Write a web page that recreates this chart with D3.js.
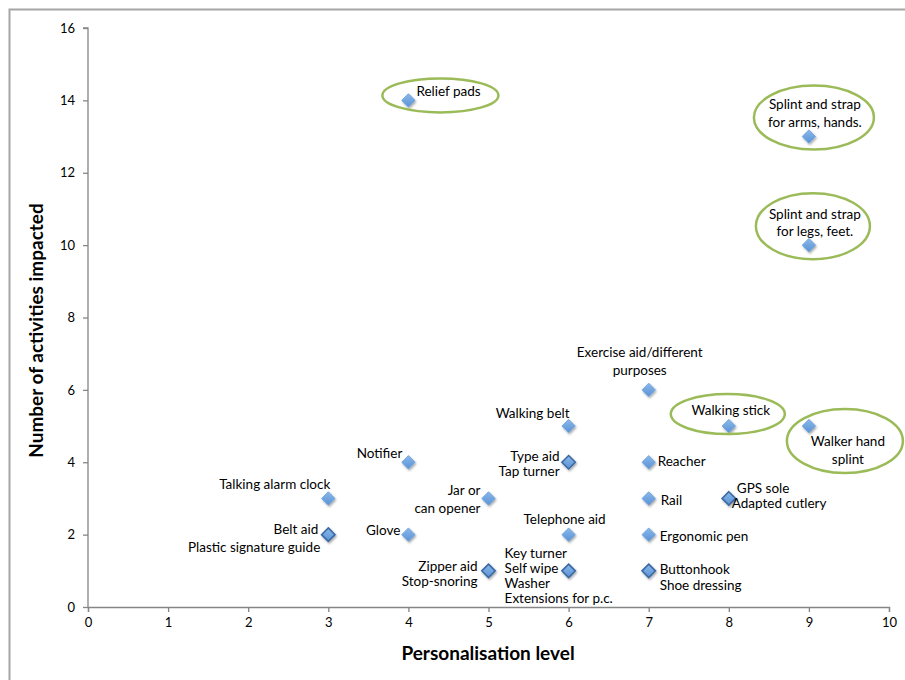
<!DOCTYPE html>
<html>
<head>
<meta charset="utf-8">
<script src="https://cdn.jsdelivr.net/npm/d3@7"></script>
<style>
  body { margin: 0; background: #fff; }
  text { font-family: Lato, "Open Sans", sans-serif; fill: #000; }
</style>
</head>
<body>
<div id="chart"></div>
<script>
// data
var names = [
    "Relief pads", "Splint and strap\nfor arms, hands.", "Splint and strap\nfor legs, feet.",
    "Exercise aid/different\npurposes", "Walking belt", "Walking stick", "Walker hand\nsplint",
    "Notifier", "Type aid\nTap turner", "Reacher",
    "Talking alarm clock", "Jar or\ncan opener", "Rail", "GPS sole\nAdapted cutlery",
    "Belt aid\nPlastic signature guide", "Glove", "Telephone aid", "Ergonomic pen",
    "Zipper aid\nStop-snoring", "Key turner\nSelf wipe\nWasher\nExtensions for p.c.", "Buttonhook\nShoe dressing"
];
var personalisation = [4, 9, 9, 7, 6, 8, 9, 4, 6, 7, 3, 5, 7, 8, 3, 4, 6, 7, 5, 6, 7];
var activities = [14, 13, 10, 6, 5, 5, 5, 4, 4, 4, 3, 3, 3, 3, 2, 2, 2, 2, 1, 1, 1];
// how many aids sit on the same spot (darker marker)
var stacked = [1, 1, 1, 1, 1, 1, 1, 1, 2, 1, 1, 1, 1, 2, 2, 1, 1, 1, 2, 4, 2];
var circled = ["Relief pads", "Splint and strap\nfor arms, hands.", "Splint and strap\nfor legs, feet.",
               "Walking stick", "Walker hand\nsplint"];

var xTicks = [0, 1, 2, 3, 4, 5, 6, 7, 8, 9, 10];
var yTicks = [0, 2, 4, 6, 8, 10, 12, 14, 16];

// label placement relative to the marker: dx, dy of first line, anchor, line gap
var placement = [
    {dx: 8, dy: -8, a: "start", g: 17},
    {dx: 6, dy: -31, a: "middle", g: 18},
    {dx: 6, dy: -30, a: "middle", g: 17},
    {dx: -9, dy: -36, a: "middle", g: 18},
    {dx: -36, dy: -11, a: "middle", g: 17},
    {dx: 2, dy: -14, a: "middle", g: 17},
    {dx: 39, dy: 17, a: "middle", g: 18},
    {dx: -6, dy: -8, a: "end", g: 17},
    {dx: -9, dy: -5, a: "end", g: 15},
    {dx: 9, dy: 0, a: "start", g: 17},
    {dx: 2, dy: -13, a: "end", g: 17},
    {dx: -8, dy: -7, a: "end", g: 18},
    {dx: 12, dy: 3, a: "start", g: 17},
    {dx: 8, dy: -9, a: "start", g: 15, dx2: 3},
    {dx: -10, dy: -4, a: "end", g: 18, dx2: -8},
    {dx: -8, dy: -3, a: "end", g: 17},
    {dx: -4, dy: -14, a: "middle", g: 17},
    {dx: 11, dy: 3, a: "start", g: 17},
    {dx: -11, dy: -3, a: "end", g: 15},
    {dx: -64, dy: -16, a: "start", g: 15},
    {dx: 11, dy: 0, a: "start", g: 16}
];
// ellipses around the highlighted labels: cx, cy offset from marker, rx, ry
var rings = {
    "Relief pads": [32, -5, 58, 17],
    "Splint and strap\nfor arms, hands.": [5, -19, 60, 32],
    "Splint and strap\nfor legs, feet.": [4, -19, 57, 33],
    "Walking stick": [-1, -12, 57, 20],
    "Walker hand\nsplint": [36, 15, 58, 32]
};

var svgWidth = 905;
var svgHeight = 680;
var margin = {top: 28, right: 16, bottom: 73, left: 88};
var chartWidth = svgWidth - margin.left - margin.right;
var chartHeight = svgHeight - margin.top - margin.bottom;

var svg = d3.select("#chart")
    .append("svg")
    .attr("width", svgWidth)
    .attr("height", svgHeight);

// chart frame
svg.append("rect")
    .attr("x", 9.5).attr("y", 9.5)
    .attr("width", 920).attr("height", 700)
    .attr("fill", "none")
    .attr("stroke", "#a6a6a6")
    .attr("stroke-width", 2);

var defs = svg.append("defs");
var grad = defs.append("linearGradient")
    .attr("id", "mk").attr("x1", 0).attr("y1", 0).attr("x2", 0).attr("y2", 1);
grad.append("stop").attr("offset", "0%").attr("stop-color", "#8ab8ea");
grad.append("stop").attr("offset", "100%").attr("stop-color", "#5a93d6");
var shadow = defs.append("filter").attr("id", "sh")
    .attr("x", "-50%").attr("y", "-50%").attr("width", "200%").attr("height", "200%");
shadow.append("feDropShadow")
    .attr("dx", 1).attr("dy", 1.5).attr("stdDeviation", 1.2)
    .attr("flood-color", "#000").attr("flood-opacity", 0.35);

var chartGroup = svg.append("g")
    .attr("transform", `translate(${margin.left},${margin.top})`);

var xScale = d3.scaleLinear().domain([0, 10]).range([0, 801]);
var yScale = d3.scaleLinear().domain([0, 16]).range([chartHeight, 0]);

var bottomAxis = d3.axisBottom(xScale).tickValues(xTicks).tickSize(5).tickPadding(6);
var leftAxis = d3.axisLeft(yScale).tickValues(yTicks).tickSize(5).tickPadding(8);

var xAxis = chartGroup.append("g")
    .attr("transform", `translate(0, ${chartHeight})`)
    .call(bottomAxis);
var yAxis = chartGroup.append("g")
    .call(leftAxis);

[xAxis, yAxis].forEach(function(ax) {
    ax.select(".domain").attr("stroke", "#868686").attr("stroke-width", 1.3);
    ax.selectAll(".tick line").attr("stroke", "#868686").attr("stroke-width", 1.3);
    ax.selectAll(".tick text")
        .attr("font-family", "Lato, sans-serif")
        .attr("font-size", "13px")
        .attr("fill", "#000");
});
yAxis.select(".domain").attr("d", `M0,${chartHeight}V0H-5`);

// axis titles
chartGroup.append("text")
    .attr("x", 400)
    .attr("y", chartHeight + 53)
    .attr("text-anchor", "middle")
    .attr("font-size", "19px")
    .attr("font-weight", "bold")
    .text("Personalisation level");

chartGroup.append("text")
    .attr("transform", `translate(-45, ${chartHeight / 2 + 13}) rotate(-90)`)
    .attr("text-anchor", "middle")
    .attr("font-size", "19px")
    .attr("font-weight", "bold")
    .text("Number of activities impacted");

var points = names.map(function(n, i) {
    return {name: n, x: personalisation[i], y: activities[i], n: stacked[i], p: placement[i]};
});

// markers
var markers = chartGroup.selectAll(".mk")
    .data(points)
    .enter()
    .append("path")
    .attr("class", "mk")
    .attr("d", d3.symbol().type(d3.symbolDiamond2).size(115))
    .attr("transform", d => `translate(${xScale(d.x)},${yScale(d.y)})`)
    .attr("fill", "url(#mk)")
    .attr("stroke", d => d.n > 1 ? "#3d6aa3" : "#6a9fdc")
    .attr("stroke-width", d => d.n > 1 ? 1.6 : 0.8)
    .attr("filter", "url(#sh)");

// labels
points.forEach(function(d) {
    var lines = d.name.split("\n");
    var t = chartGroup.append("text")
        .attr("font-size", "13.5px")
        .attr("text-anchor", d.p.a);
    lines.forEach(function(l, j) {
        var dx = d.p.dx + (j > 0 && d.p.dx2 !== undefined ? d.p.dx2 - d.p.dx : 0);
        var dy = d.p.dy + j * d.p.g + (j === lines.length - 1 && d.p.last ? d.p.last : 0);
        t.append("tspan")
            .attr("x", xScale(d.x) + dx)
            .attr("y", yScale(d.y) + dy)
            .attr("dominant-baseline", "middle")
            .text(l);
    });
});

// highlight rings
chartGroup.selectAll(".ring")
    .data(points.filter(d => circled.indexOf(d.name) >= 0))
    .enter()
    .append("ellipse")
    .attr("class", "ring")
    .attr("cx", d => xScale(d.x) + rings[d.name][0])
    .attr("cy", d => yScale(d.y) + rings[d.name][1])
    .attr("rx", d => rings[d.name][2])
    .attr("ry", d => rings[d.name][3])
    .attr("fill", "none")
    .attr("stroke", "#9bbb59")
    .attr("stroke-width", 2.5);
</script>
</body>
</html>
